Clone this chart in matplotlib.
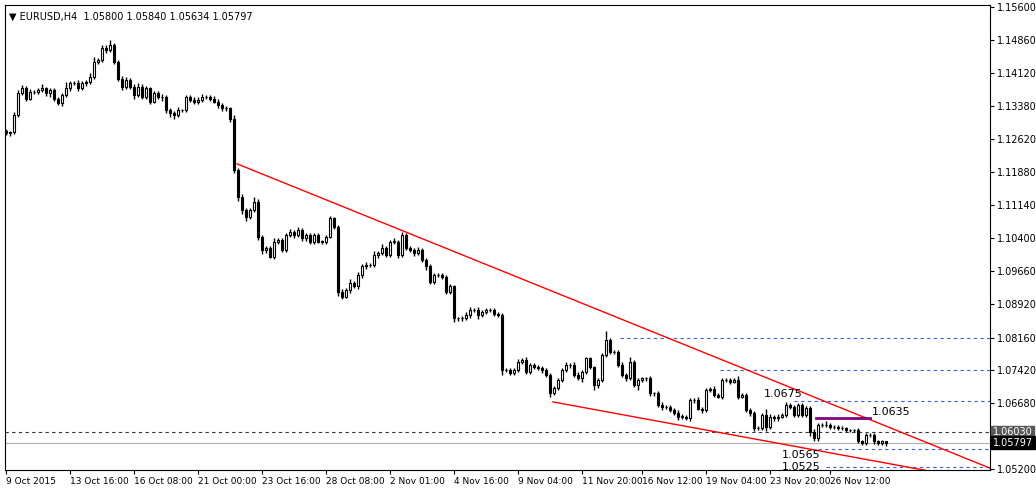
import matplotlib
matplotlib.use("Agg")
import matplotlib.pyplot as plt

closes = [
1.1276,1.1279,1.1317,1.1366,1.1377,1.1354,1.1369,1.1369,1.1373,1.1377,
1.1366,1.1373,1.1354,1.1343,1.1362,1.1377,1.1388,1.1388,1.1377,1.1388,
1.1392,1.1403,1.1437,1.1441,1.1467,1.1463,1.1474,1.1437,1.1399,1.1381,
1.1396,1.1381,1.1362,1.1381,1.1358,1.1377,1.1347,1.1366,1.1358,1.1358,
1.1328,1.1321,1.1317,1.1328,1.1328,1.1358,1.1351,1.1347,1.1351,1.1358,
1.1358,1.1354,1.1347,1.1339,1.1332,1.1332,1.1309,1.1193,1.1133,1.1103,
1.1088,1.1103,1.1122,1.1043,1.1013,1.1017,1.0998,1.1032,1.1036,1.1013,
1.1047,1.1054,1.1047,1.1058,1.1039,1.1047,1.1032,1.1047,1.1032,1.1032,
1.1043,1.1084,1.1065,1.0919,1.0908,1.0923,1.0938,1.0931,1.0957,1.0976,
1.0979,1.0979,1.1002,1.1006,1.1017,1.1002,1.1032,1.1032,1.1002,1.1047,
1.1017,1.1013,1.1006,1.1013,1.0991,1.0976,1.0942,1.0957,1.0957,1.0953,
1.0919,1.0931,1.0859,1.0859,1.0859,1.0867,1.0878,1.0878,1.0867,1.0874,
1.0878,1.0878,1.0870,1.0867,1.0743,1.0743,1.0737,1.0743,1.0762,1.0765,
1.0739,1.0754,1.0750,1.0747,1.0743,1.0732,1.0692,1.0702,1.0720,1.0743,
1.0754,1.0754,1.0732,1.0724,1.0739,1.0769,1.0750,1.0709,1.0720,1.0777,
1.0810,1.0784,1.0784,1.0754,1.0732,1.0724,1.0762,1.0709,1.0720,1.0724,
1.0724,1.0690,1.0690,1.0664,1.0660,1.0659,1.0653,1.0645,1.0638,1.0638,
1.0634,1.0675,1.0675,1.0656,1.0653,1.0698,1.0701,1.0686,1.0683,1.0720,
1.0720,1.0717,1.0720,1.0683,1.0686,1.0653,1.0645,1.0612,1.0612,1.0642,
1.0615,1.0638,1.0634,1.0638,1.0642,1.0664,1.0660,1.0642,1.0664,1.0642,
1.0657,1.0604,1.0589,1.0619,1.0619,1.0619,1.0615,1.0615,1.0612,1.0612,
1.0608,1.0608,1.0608,1.0582,1.0578,1.0597,1.0597,1.0582,1.0578,1.0582,
1.05797]
first_open = 1.1282
# wick extensions in pips
wick_up = [
4,3,6,8,7,5,6,4,5,10, 4,5,4,3,5,14,6,5,8,5, 4,8,10,5,8,8,12,5,4,5,
6,4,5,7,5,6,4,5,4,6, 3,5,6,8,3,4,5,7,6,7, 4,5,6,7,4,5,3,8,5,6,
5,5,10,5,4,6,4,7,4,4, 5,6,5,6,4,5,4,4,5,3, 4,5,4,4,6,5,10,5,6,5,
6,4,8,4,10,4,4,8,4,7, 5,5,4,6,4,5,6,4,4,5, 4,5,3,4,5,6,7,5,6,4,
4,5,4,4,5,4,4,5,5,6, 8,4,5,4,5,4,5,6,5,4, 7,5,6,6,5,4,4,3,4,5,
20,6,5,4,6,5,10,4,5,4, 4,5,4,5,6,4,5,5,8,6, 4,5,5,6,4,5,4,6,4,5,
4,5,5,10,6,4,5,5,4,4, 12,5,4,5,4,6,4,5,4,5, 4,4,5,4,4,10,4,3,3,4,
2,3,3,4,3,3,4,4,3,3, 2,2,3,4,3,3,3,4,3,2, 2]
wick_dn = [
5,6,5,4,5,6,4,5,5,5, 6,8,5,4,6,4,5,4,5,4, 6,5,4,5,4,6,5,5,6,8,
5,6,8,5,6,5,6,4,5,10, 6,8,10,4,5,4,5,6,5,4, 6,5,4,6,5,7,8,6,10,8,
10,6,5,8,10,6,4,5,6,5, 5,4,6,5,6,5,6,5,4,5, 5,4,5,10,5,4,6,4,5,6,
5,4,4,6,4,5,4,5,6,4, 4,5,6,4,5,8,6,5,4,5, 6,4,8,6,5,4,6,5,10,5,
4,5,5,4,12,5,6,5,4,5, 6,5,4,4,6,4,10,5,4,4, 5,6,5,4,8,4,5,10,6,4,
5,6,5,4,5,6,4,5,10,4, 5,5,6,5,7,4,5,4,8,6, 4,5,6,4,6,5,4,5,4,6,
5,6,4,5,4,5,6,6,4,5, 10,5,6,5,4,6,5,4,5,4, 4,10,6,5,4,5,4,4,5,5,
5,4,5,4,5,4,4,5,4,4, 8,10,4,4,4,6,4,6,4,5, 3]

tick_bars = [16, 32, 48, 64, 80, 96, 112, 128, 144, 159, 175, 191, 206]
tick_texts = ["13 Oct 16:00", "16 Oct 08:00", "21 Oct 00:00", "23 Oct 16:00",
              "28 Oct 08:00", "2 Nov 01:00", "4 Nov 16:00", "9 Nov 04:00",
              "11 Nov 20:00", "16 Nov 12:00", "19 Nov 04:00", "23 Nov 20:00",
              "26 Nov 12:00"]
price_ticks = [1.15600, 1.14860, 1.14120, 1.13380, 1.12620, 1.11880, 1.11140,
               1.10400, 1.09660, 1.08920, 1.08160, 1.07420, 1.06680, 1.05200]

upper_line = ([57.75, 246.0], [1.1207, 1.0522])
lower_line = ([136.75, 233.5], [1.0671, 1.0511])
levels = [(153.5, 1.0815), (178.5, 1.0742), (197.0, 1.0673), (203.0, 1.0565), (205.0, 1.0525)]
purple = ([202.5, 216.0], 1.0635)
ask_level = 1.06030
last_price = 1.05797

fig = plt.figure(figsize=(10.36, 4.93), dpi=100)
W, H = 1036, 493
ax = fig.add_axes([5/W, 1-470/H, 985/W, 465/H])
ax.set_xlim(-0.25, 246.0)
ax.set_ylim(1.05178, 1.15645)

opens = [first_open] + closes[:-1]
for i, (o, c) in enumerate(zip(opens, closes)):
    hi = max(o, c) + wick_up[i] * 0.0001
    lo = min(o, c) - wick_dn[i] * 0.0001
    ax.vlines(i, lo, hi, color="black", lw=1, zorder=3)
    body = abs(c - o) if abs(c - o) > 0.00005 else 0.00005
    ax.bar(i, body, bottom=min(o, c), width=0.6,
           facecolor="white" if c >= o else "black", edgecolor="black",
           lw=0.8, zorder=4)

ax.plot(*upper_line, color="red", lw=1, zorder=2)
ax.plot(*lower_line, color="red", lw=1, zorder=2)
for x0, lv in levels:
    ax.plot([x0, 246], [lv, lv], color="#3d5fe0", lw=0.8, ls=(0, (3, 3)), zorder=1)
ax.axhline(ask_level, color="#333333", lw=0.8, ls=(0, (3, 3)), zorder=1)
ax.axhline(last_price, color="#b0b0b0", lw=0.8, zorder=1)
ax.plot(purple[0], [purple[1]] * 2, color="#800080", lw=2, zorder=5)

ax.text(216.5, 1.0635 + 0.0002, "1.0635", fontsize=8, va="bottom", ha="left")
ax.text(189.5, 1.0673 + 0.0004, "1.0675", fontsize=8, va="bottom", ha="left")
ax.text(194.0, 1.0565 - 0.0002, "1.0565", fontsize=8, va="top", ha="left")
ax.text(194.0, 1.0525, "1.0525", fontsize=8, va="center", ha="left")

ax.text(0.004, 0.985, "▼ EURUSD,H4  1.05800 1.05840 1.05634 1.05797",
        transform=ax.transAxes, fontsize=7, va="top", ha="left")

ax.yaxis.tick_right()
ax.set_yticks(price_ticks)
ax.set_yticklabels([f"{p:.5f}" for p in price_ticks], fontsize=7)
ax.set_xticks([0] + tick_bars)
ax.set_xticklabels(["9 Oct 2015"] + tick_texts, fontsize=6.5, ha="left")
ax.tick_params(axis="both", length=3, width=0.8, pad=2)
for s in ax.spines.values():
    s.set_linewidth(0.8)

for lv, txt, bg in [(ask_level, "1.06030", "#5a5a5a"), (last_price, "1.05797", "black")]:
    ax.text(1.003, lv, txt, transform=ax.get_yaxis_transform(), fontsize=7,
            color="white", va="center", ha="left",
            bbox=dict(boxstyle="square,pad=0.15", fc=bg, ec=bg))

fig.savefig("out.png", dpi=100)
